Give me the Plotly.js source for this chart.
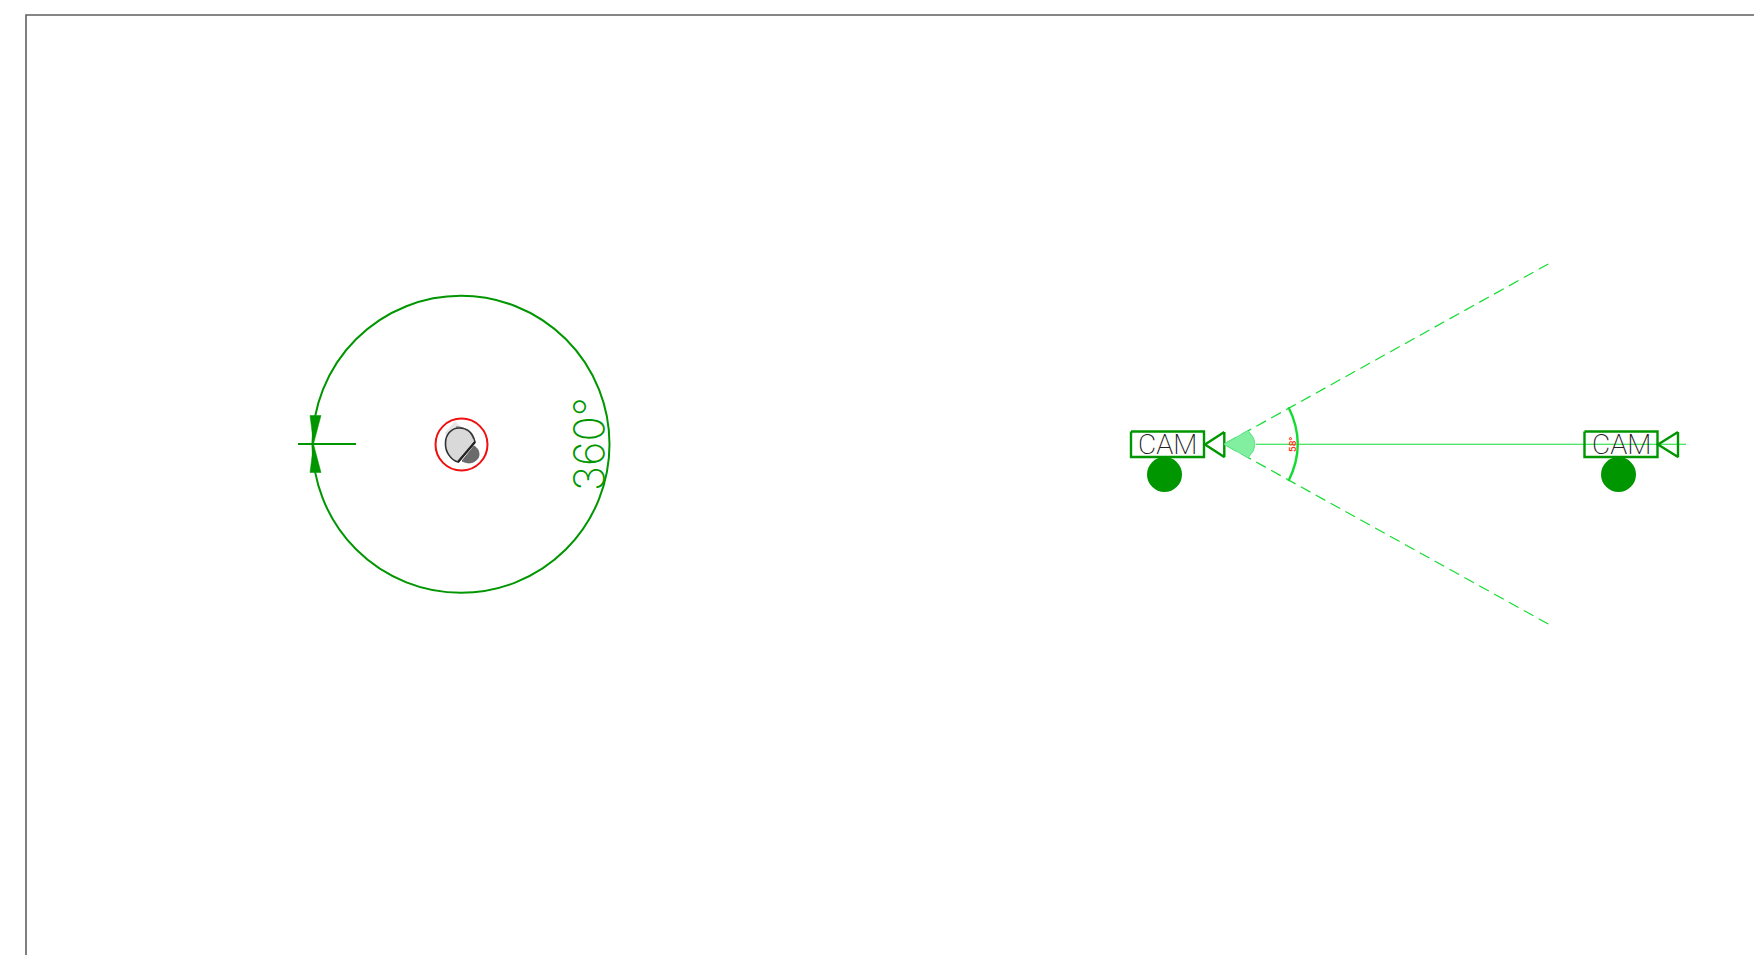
<!DOCTYPE html>
<html>
<head>
<meta charset="utf-8">
<script src="https://cdn.plot.ly/plotly-3.0.1.min.js"></script>
<style>html,body{margin:0;padding:0;background:#fff}#chart{width:1754px;height:955px}</style>
</head>
<body>
<div id="chart"></div>
<script>
// Drawing-space readings (reference units)
const frameX = [26, 26, 1754];
const frameY = [955, 15, 15];

const bigCircle = {cx: 461, cy: 444.3, r: 148.5};
const redCircle = {cx: 461.5, cy: 444.5, r: 26};
const tickX = [298, 356];
const tickY = [444, 444];
const arrowTopX = [310, 321, 313.5];
const arrowTopY = [415.5, 415.5, 444];
const arrowBottomX = [310, 321, 313.5];
const arrowBottomY = [472.5, 472.5, 444];

const diamondX = [455, 475, 458, 445];
const diamondY = [421.5, 441.5, 461, 433];
const bodyPath = 'M 475 442 C 473 433 467 428 459 428 C 451 428 445.5 435 445.5 443 C 445 452 451 460 458 462 Z';
const bodyEdgePath = 'M 473.5 439 C 470 430 463 426.5 456 427';
const cutX = [475, 458];
const cutY = [442, 462];
const domePath = 'M 462 461 L 474 446 C 480 449 481 458 475 461 C 471 464 466 463 462 461 Z';

const camLabels = ['CAM', 'CAM'];
const camBoxLeft = [1131, 1584.5];
const camBoxRight = [1204, 1657.5];
const camBoxTop = [431.5, 431.5];
const camBoxBottom = [457, 457];
const camDotX = [1164.5, 1618.5];
const camDotY = [474.5, 474.5];
const camDotR = [17.5, 17.5];
const camTextX = [1167.5, 1621];
const camTextY = [444.5, 444.5];
const lensApexX = [1205, 1658];
const lensBaseX = [1224.3, 1678];
const lensTop = [432, 432];
const lensBottom = [457, 457];

const coneApex = [1224, 444.2];
const coneUpperEnd = [1548.3, 264];
const coneLowerEnd = [1548.3, 624];
const axisLineX = [1256, 1686];
const axisLineY = [444.3, 444.3];
const sectorPath = 'M 1224 444.2 L 1248 430.6 Q 1262 444.2 1248 457.8 Z';
const arcPath = 'M 1288.5 407.3 Q 1307 444.2 1288.5 481';
const fovLabel = '58°';
const fullLabel = '360°';

const GREEN = '#009600';
const LIME = '#12dc32';

function line(x, y, color, width, dash, fill, fillcolor) {
  return {
    x, y, type: 'scatter', mode: 'lines', hoverinfo: 'skip', showlegend: false,
    line: {color, width, dash: dash || 'solid'}, fill: fill || 'none', fillcolor: fillcolor
  };
}
function circleShape(cx, cy, r, color, width, fillcolor) {
  return {type: 'circle', xref: 'x', yref: 'y', x0: cx - r, x1: cx + r, y0: cy - r, y1: cy + r,
    line: {color, width}, fillcolor: fillcolor || 'rgba(0,0,0,0)'};
}
function pathShape(path, color, width, fillcolor) {
  return {type: 'path', xref: 'x', yref: 'y', path, line: {color, width}, fillcolor: fillcolor || 'rgba(0,0,0,0)'};
}

const traces = [
  line(frameX, frameY, '#5f5f5f', 1.6),
  line(tickX, tickY, GREEN, 2.2),
  line(arrowTopX.concat(arrowTopX[0]), arrowTopY.concat(arrowTopY[0]), GREEN, 0.5, 'solid', 'toself', GREEN),
  line(arrowBottomX.concat(arrowBottomX[0]), arrowBottomY.concat(arrowBottomY[0]), GREEN, 0.5, 'solid', 'toself', GREEN),
  line(diamondX.concat(diamondX[0]), diamondY.concat(diamondY[0]), '#e6e6e6', 0.5, 'solid', 'toself', '#e6e6e6'),
  line([coneUpperEnd[0], coneApex[0]], [coneUpperEnd[1], coneApex[1]], LIME, 1.2, '11px,6px'),
  line([coneLowerEnd[0], coneApex[0]], [coneLowerEnd[1], coneApex[1]], LIME, 1.2, '11px,6px'),
  line(axisLineX, axisLineY, LIME, 1.1)
];
camBoxLeft.forEach((l, i) => {
  const r = camBoxRight[i], t = camBoxTop[i], b = camBoxBottom[i];
  traces.push(line([l, r, r, l, l], [t, t, b, b, t], GREEN, 2.4));
  const my = (lensTop[i] + lensBottom[i]) / 2;
  traces.push(line([lensBaseX[i], lensApexX[i], lensBaseX[i], lensBaseX[i]],
                   [lensTop[i], my, lensBottom[i], lensTop[i]], GREEN, 2.4));
});

const shapes = [
  circleShape(bigCircle.cx, bigCircle.cy, bigCircle.r, GREEN, 2),
  pathShape(domePath, '#555555', 0.8, '#6b6b6b'),
  pathShape(bodyPath, '#333333', 1.6, '#d9d9d9'),
  pathShape(bodyEdgePath, '#444444', 0.8),
  {type: 'line', xref: 'x', yref: 'y', x0: cutX[0], x1: cutX[1], y0: cutY[0], y1: cutY[1], line: {color: '#222222', width: 2.2}},
  circleShape(redCircle.cx, redCircle.cy, redCircle.r, '#f01010', 2),
  pathShape(sectorPath, '#5fe58a', 1, '#82eea0'),
  pathShape(arcPath, LIME, 2.4)
];
camDotX.forEach((x, i) => shapes.push(circleShape(x, camDotY[i], camDotR[i], GREEN, 0, GREEN)));

const annotations = camLabels.map((t, i) => ({
  x: camTextX[i], y: camTextY[i], xref: 'x', yref: 'y', text: t, showarrow: false,
  font: {family: 'Roboto', size: 28, color: '#222222', weight: 200}, xanchor: 'center', yanchor: 'middle'
}));
annotations.push({x: 588.5, y: 444.5, xref: 'x', yref: 'y', text: fullLabel, showarrow: false, textangle: -90,
  font: {family: 'Inter', size: 42, color: GREEN, weight: 200}, xanchor: 'center', yanchor: 'middle'});
annotations.push({x: 1292, y: 445, xref: 'x', yref: 'y', text: fovLabel, showarrow: false, textangle: -90,
  font: {family: 'Inter', size: 9, color: '#ff3010', weight: 600}, xanchor: 'center', yanchor: 'middle'});

const layout = {
  width: 1754, height: 955,
  margin: {l: 0, r: 0, t: 0, b: 0, pad: 0},
  paper_bgcolor: '#ffffff', plot_bgcolor: '#ffffff',
  showlegend: false,
  xaxis: {range: [0, 1754], visible: false, fixedrange: true},
  yaxis: {range: [955, 0], visible: false, fixedrange: true},
  shapes, annotations
};
Plotly.newPlot('chart', traces, layout, {displayModeBar: false, staticPlot: true});
</script>
</body>
</html>
